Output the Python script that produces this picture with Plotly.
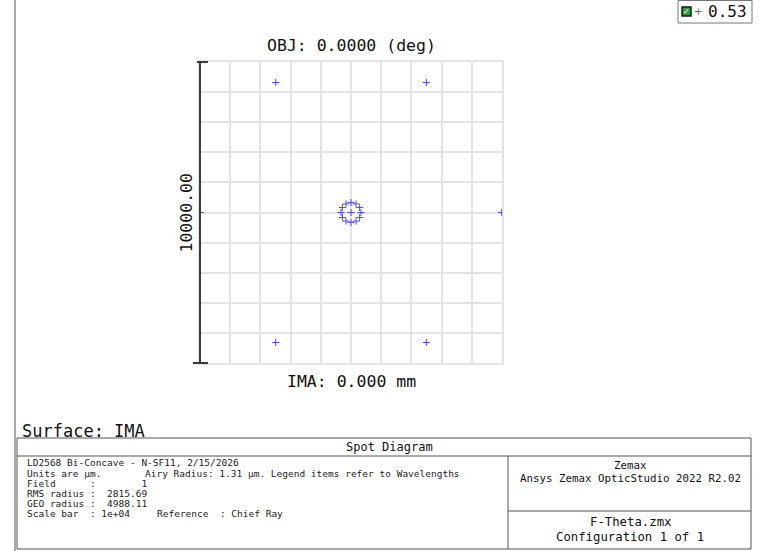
import plotly.graph_objects as go

W, H = 760, 551

# ---- data (µm) ----
spot_x = [4988, 2494, -2494, -4988, -2494, 2494,
          330, 286, 165, 0, -165, -286, -330, -286, -165, 0, 165, 286, 0]
spot_y = [0, 4320, 4320, 0, -4320, -4320,
          0, 165, 286, 330, 286, 165, 0, -165, -286, -330, -286, -165, 0]
scale_bar = 1e4
half_range = 5000
grid_step = 1000
legend_labels = ["0.53"]

title_top = "OBJ: 0.0000 (deg)"
title_bottom = "IMA: 0.000 mm"
scale_label = "10000.00"
surface_label = "Surface: IMA"
table_header = "Spot Diagram"
info_lines = [
    "LD2568 Bi-Concave - N-SF11, 2/15/2026",
    "Units are µm.",
    "Field      :        1",
    "RMS radius :  2815.69",
    "GEO radius :  4988.11",
    "Scale bar  : 1e+04",
]
info_extra = [(1, "Airy Radius: 1.31 µm. Legend items refer to Wavelengths"),
              (5, "Reference  : Chief Ray")]
right_top = ["Zemax", "Ansys Zemax OpticStudio 2022 R2.02"]
right_bottom = ["F-Theta.zmx", "Configuration 1 of 1"]


def px(x):
    return x / W


def py(y):
    return 1 - y / H


MONO = "DejaVu Sans Mono, monospace"
L, R, T, B = 200, 502, 62, 363
xdom = [px(L), px(R)]
ydom = [py(B), py(T)]

fig = go.Figure()
fig.add_trace(go.Scatter(
    x=spot_x, y=spot_y, mode="markers",
    marker=dict(symbol="cross-thin", size=5, color="#4a4ae8",
                line=dict(width=1, color="#4a4ae8")),
    showlegend=False, hoverinfo="skip"))

axis_common = dict(range=[-half_range, half_range], dtick=grid_step, tick0=0,
                   showgrid=True, gridcolor="#e4e4e4", gridwidth=2,
                   zeroline=False, showticklabels=False, ticks="",
                   showline=True, mirror=True, linecolor="#e4e4e4", linewidth=2,
                   fixedrange=True)
fig.update_layout(
    width=W, height=H, autosize=False,
    margin=dict(l=0, r=0, t=0, b=0),
    paper_bgcolor="white", plot_bgcolor="white",
    xaxis=dict(domain=xdom, **axis_common),
    yaxis=dict(domain=ydom, **axis_common),
)

shapes = []
ann = []


def yval_to_paper(v):
    return ydom[0] + (v + half_range) / (2 * half_range) * (ydom[1] - ydom[0])


sb_x = px(L)
sb_y0 = yval_to_paper(-scale_bar / 2)
sb_y1 = yval_to_paper(scale_bar / 2)
bar_col = "#3a3a3a"
shapes.append(dict(type="line", xref="paper", yref="paper", x0=sb_x, x1=sb_x,
                   y0=sb_y0, y1=sb_y1, line=dict(color=bar_col, width=2)))
shapes.append(dict(type="line", xref="paper", yref="paper", x0=px(197), x1=px(208),
                   y0=sb_y1, y1=sb_y1, line=dict(color=bar_col, width=2)))
shapes.append(dict(type="line", xref="paper", yref="paper", x0=px(193), x1=px(208),
                   y0=sb_y0, y1=sb_y0, line=dict(color=bar_col, width=2)))

# left window border line
shapes.append(dict(type="line", xref="paper", yref="paper", x0=px(15), x1=px(15),
                   y0=0, y1=1, line=dict(color="#a8a8a8", width=2)))

# titles
ann.append(dict(text=title_top, x=px(351), y=py(46), xref="paper", yref="paper",
                showarrow=False, xanchor="center", yanchor="middle",
                font=dict(family=MONO, size=16.5, color="#111")))
ann.append(dict(text=title_bottom, x=px(351), y=py(381), xref="paper", yref="paper",
                showarrow=False, xanchor="center", yanchor="middle",
                font=dict(family=MONO, size=16.5, color="#111")))
ann.append(dict(text=scale_label, x=px(185.5), y=py(213), xref="paper", yref="paper",
                showarrow=False, xanchor="center", yanchor="middle", textangle=-90,
                font=dict(family=MONO, size=16.5, color="#111")))
ann.append(dict(text=surface_label, x=px(20), y=py(431), xref="paper", yref="paper",
                showarrow=False, xanchor="left", yanchor="middle",
                font=dict(family=MONO, size=17, color="#111")))

# legend box top right
shapes.append(dict(type="rect", xref="paper", yref="paper", x0=px(678), x1=px(752),
                   y0=py(23), y1=py(0.5), line=dict(color="#777", width=1),
                   fillcolor="white"))
shapes.append(dict(type="rect", xref="paper", yref="paper", x0=px(682), x1=px(691),
                   y0=py(16), y1=py(7), line=dict(color="#1a1a1a", width=1.5),
                   fillcolor="#2f9e3a"))
ann.append(dict(text="✓", x=px(686.5), y=py(11.5), xref="paper", yref="paper",
                showarrow=False, xanchor="center", yanchor="middle",
                font=dict(family="DejaVu Sans", size=8, color="white")))
ann.append(dict(text="+", x=px(698), y=py(11.5), xref="paper", yref="paper",
                showarrow=False, xanchor="center", yanchor="middle",
                font=dict(family="DejaVu Sans", size=10, color="#4a4ae8")))
ann.append(dict(text=legend_labels[0], x=px(706), y=py(11.5), xref="paper", yref="paper",
                showarrow=False, xanchor="left", yanchor="middle",
                font=dict(family=MONO, size=16, color="#111")))

# bottom table
tcol = "#555"
TL, TR, TT, TB = 17, 751, 438, 549
shapes.append(dict(type="rect", xref="paper", yref="paper", x0=px(TL), x1=px(TR),
                   y0=py(TB), y1=py(TT), line=dict(color=tcol, width=1)))
shapes.append(dict(type="line", xref="paper", yref="paper", x0=px(TL), x1=px(TR),
                   y0=py(456), y1=py(456), line=dict(color=tcol, width=1)))
shapes.append(dict(type="line", xref="paper", yref="paper", x0=px(508), x1=px(508),
                   y0=py(456), y1=py(TB), line=dict(color=tcol, width=1)))
shapes.append(dict(type="line", xref="paper", yref="paper", x0=px(508), x1=px(TR),
                   y0=py(511), y1=py(511), line=dict(color=tcol, width=1)))

ann.append(dict(text=table_header, x=px(389), y=py(446.5), xref="paper", yref="paper",
                showarrow=False, xanchor="center", yanchor="middle",
                font=dict(family=MONO, size=12, color="#111")))

line_y = [462, 473, 483, 493, 503, 513]
for i, t in enumerate(info_lines):
    ann.append(dict(text=t.replace(" ", "\u00a0"), x=px(25), y=py(line_y[i]),
                    xref="paper", yref="paper", showarrow=False,
                    xanchor="left", yanchor="middle",
                    font=dict(family=MONO, size=9.5, color="#222")))
extra_x = {1: 143, 5: 155}
for i, t in info_extra:
    ann.append(dict(text=t.replace(" ", "\u00a0"), x=px(extra_x[i]), y=py(line_y[i]),
                    xref="paper", yref="paper", showarrow=False,
                    xanchor="left", yanchor="middle",
                    font=dict(family=MONO, size=9.5, color="#222")))

for t, yy, sz in [(right_top[0], 465, 10.8), (right_top[1], 478.5, 10.8),
                  (right_bottom[0], 522, 12.3), (right_bottom[1], 537, 12.3)]:
    ann.append(dict(text=t, x=px(630), y=py(yy), xref="paper", yref="paper",
                    showarrow=False, xanchor="center", yanchor="middle",
                    font=dict(family=MONO, size=sz, color="#111")))

fig.update_layout(shapes=shapes, annotations=ann)
fig.write_html("out.html",
               config={"displayModeBar": False, "staticPlot": True},
               post_script="document.body.style.margin='0';"
                           "document.body.style.overflow='hidden';")
